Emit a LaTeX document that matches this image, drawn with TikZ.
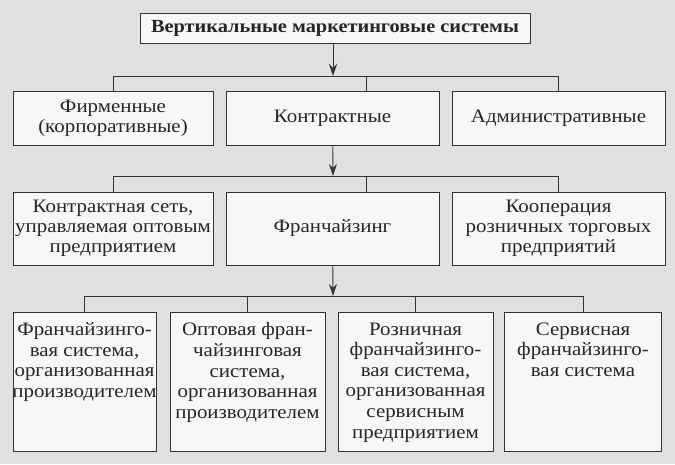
\documentclass[tikz,border=0pt]{standalone}
\usepackage{fontspec}
\setmainfont{Liberation Serif}[FakeStretch=1.1]
\usetikzlibrary{calc,arrows.meta}

\begin{document}
\begin{tikzpicture}[x=1pt,y=-1pt,
    cell/.style={draw=black!80, fill=black!3, line width=0.9pt, align=center,
      inner sep=2pt, text=black!85, font=\fontsize{19}{20}\selectfont},
    word/.style={align=center, inner sep=0pt, text=black!85,
      font=\fontsize{19}{20.6}\selectfont},
    link/.style={draw=black!80, line width=0.9pt},
    pil/.style={link, -{Stealth[length=12pt,width=8pt]}}]
    % page
    \fill[black!12] (0,0) rectangle (675,464);
    \useasboundingbox (0,0) rectangle (675,464);
    % top
    \node[cell, minimum width=390, minimum height=30, font=\fontsize{18.5}{20}\selectfont\bfseries]
        (vms) at (335,28) {Вертикальные маркетинговые системы};
    % second row
    \node[cell, minimum width=200, minimum height=54] (fir) at (113,118)
        {Фирменные\\(корпоративные)};
    \node[cell, minimum width=213, minimum height=54] (kon) at (332.5,118)
        {Контрактные};
    \node[cell, minimum width=213, minimum height=54] (adm) at (558.5,118)
        {Административные};
    % third row
    \node[cell, minimum width=200, minimum height=73] (seti) at (113,228.5)
        {Контрактная сеть,\\управляемая оптовым\\предприятием};
    \node[cell, minimum width=213, minimum height=73] (fra) at (332.5,228.5)
        {Франчайзинг};
    \node[cell, minimum width=213, minimum height=73] (koo) at (558.5,228.5)
        {Кооперация\\розничных торговых\\предприятий};
    % fourth row
    \foreach \n/\x/\w/\t in {
        pr/84.5/143/{Франчайзинго-\\вая система,\\организованная\\производителем},
        op/247.5/155/{Оптовая фран-\\чайзинговая\\система,\\организованная\\производителем},
        ro/415.5/155/{Розничная\\франчайзинго-\\вая система,\\организованная\\сервисным\\предприятием},
        se/583/157/{Сервисная\\франчайзинго-\\вая система}}
    {
        \node[cell, minimum width=\w, minimum height=139] (\n) at (\x,381.5) {};
        \node[word, anchor=north] (\n-txt) at ($(\n.north)+(0,11)$) {\t};
    }
    % connectors
    \coordinate (j1) at (333,76);
    \coordinate (d1) at (366,76);
    \draw[pil] (vms.south -| j1) -- (j1);
    \draw[link] (fir.north) |- (adm.north |- j1) -- (adm.north);
    \draw[link] (d1) -- (d1 |- kon.north);
    \coordinate (j2) at (333,176);
    \coordinate (d2) at (366,176);
    \draw[pil] (kon) -- (j2);
    \draw[link] (seti.north) |- (koo.north |- j2) -- (koo.north);
    \draw[link] (d2) -- (d2 |- fra.north);
    \coordinate (j3) at (333,296);
    \draw[pil] (fra) -- (j3);
    \draw[link] (pr.north) |- (se.north |- j3) -- (se.north);
    \foreach \n in {op,ro}
        \draw[link] (\n.north) -- (\n.north |- j3);
\end{tikzpicture}
\end{document}
